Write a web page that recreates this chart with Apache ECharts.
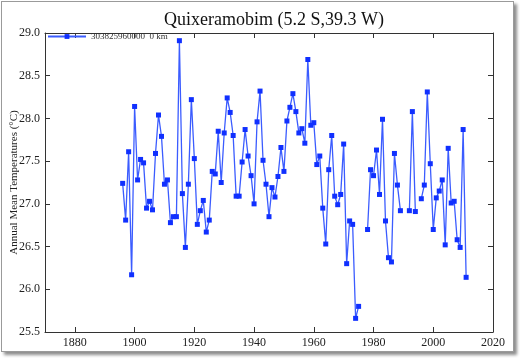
<!DOCTYPE html>
<html>
<head>
<meta charset="utf-8">
<script src="https://cdn.jsdelivr.net/npm/echarts@6/dist/echarts.min.js"></script>
<style>
html,body{margin:0;padding:0;background:#fff;}
#frame{position:absolute;left:1px;top:1px;width:511px;height:349px;border:1px solid #9a9a9a;box-shadow:3px 3px 3px rgba(0,0,0,0.45);background:#fff;}
#chart{position:absolute;left:0;top:0;width:520px;height:358px;}
</style>
</head>
<body>
<div id="frame"></div>
<div id="chart"></div>
<script>
const titleText = "Quixeramobim (5.2 S,39.3 W)";
const seriesName = "303825960000  0 km";
const yAxisName = "Annual Mean Temperatures (\u00B0C)";
const xTicks = [1880, 1900, 1920, 1940, 1960, 1980, 2000, 2020];
const yTicks = [25.5, 26.0, 26.5, 27.0, 27.5, 28.0, 28.5, 29.0];
const startYear = 1896;
const temps = [
  27.24, 26.81, 27.61, 26.17, 28.14, 27.28, 27.52, 27.48, 26.95, 27.03,
  26.93, 27.59, 28.04, 27.79, 27.23, 27.28, 26.78, 26.85, 26.85, 28.91,
  27.12, 26.49, 27.23, 28.22, 27.53, 26.76, 26.92, 27.04, 26.67, 26.81,
  27.38, 27.35, 27.85, 27.25, 27.83, 28.24, 28.07, 27.80, 27.09, 27.09,
  27.49, 27.87, 27.56, 27.33, 27.00, 27.96, 28.32, 27.51, 27.23, 26.85,
  27.19, 27.08, 27.32, 27.66, 27.38, 27.97, 28.13, 28.29, 28.08, 27.83,
  27.88, 27.71, 28.69, 27.92, 27.95, 27.46, 27.56, 26.95, 26.53, 27.40,
  27.80, 27.09, 26.99, 27.11, 27.70, 26.30, 26.80, 26.76, 25.66, 25.80,
  null, null, 26.70, 27.40, 27.33, 27.63, 27.11, 27.99, 26.80, 26.37,
  26.32, 27.59, 27.22, 26.92, null, null, 26.92, 28.08, 26.91, null,
  27.06, 27.22, 28.31, 27.47, 26.70, 27.07, 27.15, 27.28, 26.52, 27.65,
  27.01, 27.03, 26.58, 26.49, 27.87, 26.14
];
const data = temps.map((v, i) => [startYear + i, v]);

const font = "'Liberation Serif', 'DejaVu Serif', serif";
const axisCol = '#333';
const chart = echarts.init(document.getElementById('chart'), null, {renderer: 'canvas'});
const xCommon = {
  type: 'value', min: 1870, max: 2020,
  axisLine: {show: true, onZero: false, lineStyle: {color: axisCol, width: 1}},
  splitLine: {show: false}
};
const yCommon = {
  type: 'value', min: 25.5, max: 29.0,
  axisLine: {show: true, onZero: false, lineStyle: {color: axisCol, width: 1}},
  splitLine: {show: false}
};
chart.setOption({
  animation: false,
  backgroundColor: 'transparent',
  title: {
    text: titleText, left: 269, top: 6, textAlign: 'center',
    textStyle: {fontFamily: font, fontSize: 18, fontWeight: 'normal', color: '#111'}
  },
  legend: {
    left: 47, top: 32, padding: 0, itemWidth: 38, itemHeight: 6, itemGap: 4,
    textStyle: {fontFamily: font, fontSize: 9, color: '#333'},
    data: [seriesName]
  },
  grid: {left: 45, right: 27, top: 33, bottom: 26, containLabel: false, outerBoundsMode: 'none'},
  xAxis: [
    Object.assign({}, xCommon, {
      position: 'bottom',
      axisTick: {show: true, inside: true, length: 5, customValues: xTicks, lineStyle: {color: axisCol}},
      axisLabel: {show: true, customValues: xTicks, margin: 5, fontFamily: font, fontSize: 12, color: '#222',
        formatter: v => String(v)}
    }),
    Object.assign({}, xCommon, {
      position: 'top',
      axisTick: {show: true, inside: true, length: 5, customValues: xTicks, lineStyle: {color: axisCol}},
      axisLabel: {show: false}
    })
  ],
  yAxis: [
    Object.assign({}, yCommon, {
      position: 'left',
      name: yAxisName, nameLocation: 'middle', nameGap: 25, nameRotate: 90, nameMoveOverlap: false,
      nameTextStyle: {fontFamily: font, fontSize: 11, color: '#222'},
      axisTick: {show: true, inside: true, length: 5, customValues: yTicks, lineStyle: {color: axisCol}},
      axisLabel: {show: true, customValues: yTicks, margin: 5, fontFamily: font, fontSize: 12, color: '#222',
        formatter: v => Number(v).toFixed(1)}
    }),
    Object.assign({}, yCommon, {
      position: 'right',
      axisTick: {show: true, inside: true, length: 5, customValues: yTicks, lineStyle: {color: axisCol}},
      axisLabel: {show: false}
    })
  ],
  series: [{
    name: seriesName,
    type: 'line',
    data: data,
    connectNulls: false,
    symbol: 'rect',
    symbolSize: 5,
    showAllSymbol: true,
    lineStyle: {color: '#3b5cff', width: 1.3},
    itemStyle: {color: '#1030ff', borderWidth: 0},
    color: '#1030ff'
  }]
});
</script>
</body>
</html>
